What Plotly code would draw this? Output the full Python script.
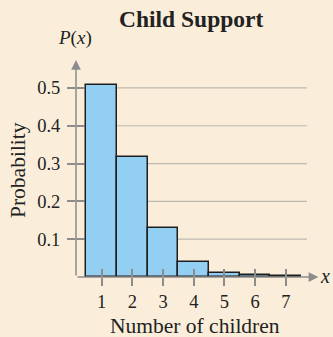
import plotly.graph_objects as go

children = [1, 2, 3, 4, 5, 6, 7]
probability = [0.509, 0.318, 0.129, 0.039, 0.010, 0.006, 0.003]
y_ticks = [0.1, 0.2, 0.3, 0.4, 0.5]
y_tick_labels = ["0.1", "0.2", "0.3", "0.4", "0.5"]
x_tick_labels = ["1", "2", "3", "4", "5", "6", "7"]

BG = "#FAEEDA"
BAR = "#93CFF3"
AXIS = "#8C8C8C"
GRID = "#BDB8B0"
FONT = "Liberation Serif"

W, H = 333, 337
ML, MR, MT, MB = 76, 26, 69, 60
PW, PH = W - ML - MR, H - MT - MB

X0, X1 = 0.162, 7.69
Y1 = 0.55

fig = go.Figure()
fig.add_trace(go.Bar(
    x=children, y=probability, width=1.0,
    marker=dict(color=BAR, line=dict(color="#1E1E1E", width=1.5)),
    xaxis="x", yaxis="y",
))
fig.add_trace(go.Scatter(x=[X0], y=[0], mode="markers", marker=dict(opacity=0),
                         xaxis="x2", yaxis="y2", hoverinfo="skip"))

for v in y_ticks:
    fig.add_shape(type="line", x0=X0, x1=X1, y0=v, y1=v, xref="x", yref="y",
                  line=dict(color=GRID, width=1.2), layer="below")

tickfont = dict(family=FONT, size=18.5, color="#222")
fig.update_layout(
    width=W, height=H,
    margin=dict(l=ML, r=MR, t=MT, b=MB, autoexpand=False),
    paper_bgcolor=BG, plot_bgcolor=BG,
    showlegend=False,
    bargap=0,
    xaxis=dict(range=[X0, X1], tickvals=children, ticktext=x_tick_labels,
               ticks="outside", ticklen=8, tickwidth=1.5, tickcolor=AXIS,
               showgrid=False, zeroline=False, showline=False,
               tickfont=tickfont, ticklabelstandoff=0),
    yaxis=dict(range=[0, Y1], tickvals=y_ticks, ticktext=y_tick_labels,
               ticks="outside", ticklen=8, tickwidth=1.5, tickcolor=AXIS,
               showgrid=False, zeroline=False, showline=False,
               tickfont=tickfont, ticklabelstandoff=3),
    xaxis2=dict(range=[X0, X1], overlaying="x", tickvals=children,
                ticks="inside", ticklen=8, tickwidth=1.5, tickcolor=AXIS,
                showticklabels=False, showgrid=False, zeroline=False, showline=False),
    yaxis2=dict(range=[0, Y1], overlaying="y", tickvals=y_ticks,
                ticks="inside", ticklen=8, tickwidth=1.5, tickcolor=AXIS,
                showticklabels=False, showgrid=False, zeroline=False, showline=False),
)

fig.add_annotation(x=8.06, y=0, ax=X0, ay=0, xref="x", yref="y", axref="x", ayref="y",
                   showarrow=True, arrowhead=2, arrowsize=1.3, arrowwidth=1.5,
                   arrowcolor=AXIS, text="")
fig.add_annotation(x=X0, y=0.574, ax=X0, ay=0, xref="x", yref="y", axref="x", ayref="y",
                   showarrow=True, arrowhead=2, arrowsize=1.3, arrowwidth=1.5,
                   arrowcolor=AXIS, text="")

def txt(text, px, py, size, **kw):
    fig.add_annotation(text=text, x=(px - ML) / PW, y=1 - (py - MT) / PH,
                       xref="paper", yref="paper",
                       showarrow=False, xanchor="center", yanchor="middle",
                       font=dict(family=FONT, size=size, color="#222"), **kw)

txt("<b>Child Support</b>", 191, 19, 23.5)
txt("<i>P</i>(<i>x</i>)", 74.5, 38, 19)
txt("<i>x</i>", 325, 276, 20)
txt("Probability", 18, 170, 21.5, textangle=-90)
txt("Number of children", 194.5, 326, 21.5)

fig.write_html("out.html", config={"displayModeBar": False},
               post_script="document.body.style.margin='0px';")
